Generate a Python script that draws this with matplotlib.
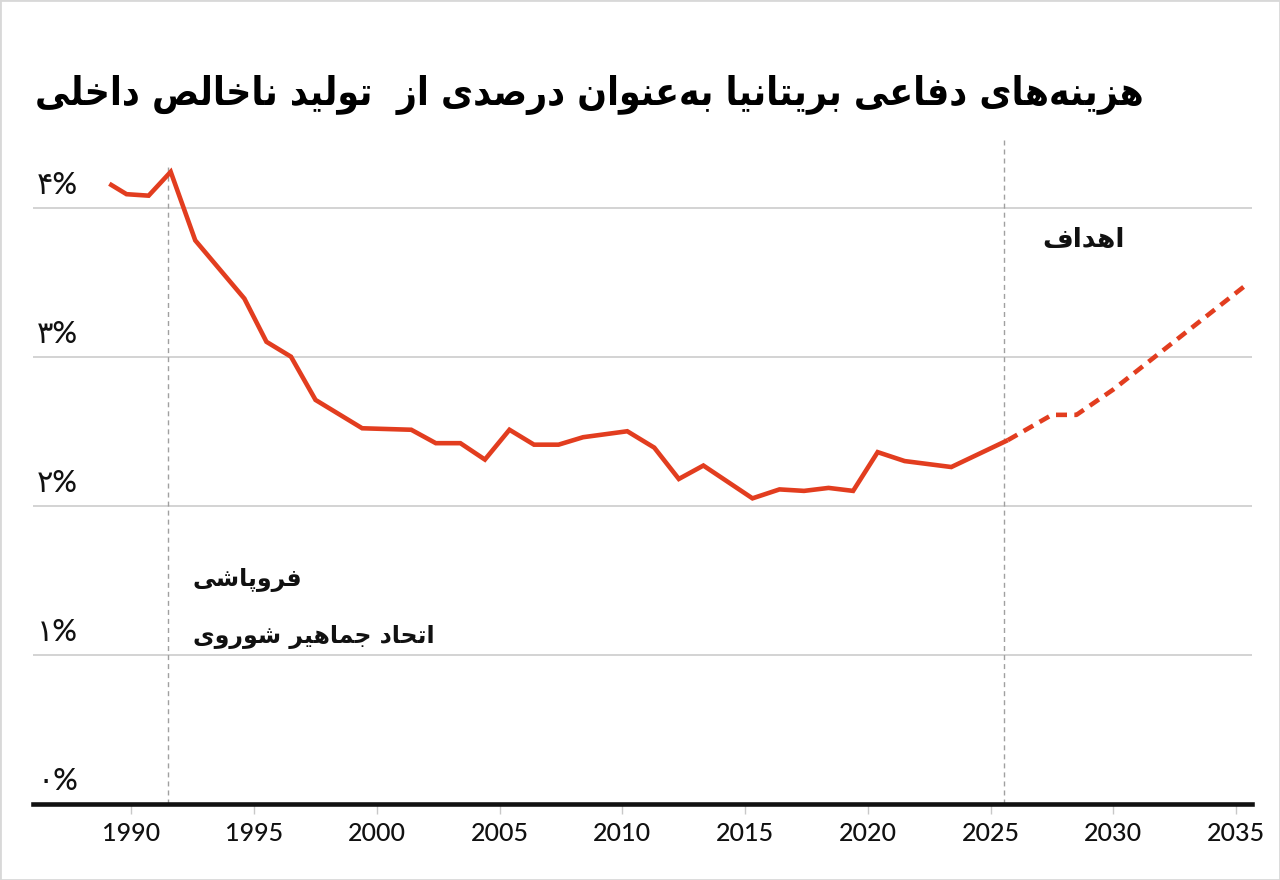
import matplotlib
matplotlib.use("Agg")
import matplotlib.pyplot as plt
from matplotlib.patches import Rectangle
from matplotlib.transforms import offset_copy

# matplotlib has no Arabic-script joining or RTL, so shape Persian by hand:
# map letters to presentation forms and reverse into visual order.
FORMS = {
    # right-joining: (isolated, final)
    "ا": ("\uFE8D", "\uFE8E"),
    "د": ("\uFEA9", "\uFEAA"),
    "ر": ("\uFEAD", "\uFEAE"),
    "ز": ("\uFEAF", "\uFEB0"),
    "و": ("\uFEED", "\uFEEE"),
    # dual-joining: (isolated, final, initial, medial)
    "ب": ("\uFE8F", "\uFE90", "\uFE91", "\uFE92"),
    "ت": ("\uFE95", "\uFE96", "\uFE97", "\uFE98"),
    "ج": ("\uFE9D", "\uFE9E", "\uFE9F", "\uFEA0"),
    "ح": ("\uFEA1", "\uFEA2", "\uFEA3", "\uFEA4"),
    "خ": ("\uFEA5", "\uFEA6", "\uFEA7", "\uFEA8"),
    "ش": ("\uFEB5", "\uFEB6", "\uFEB7", "\uFEB8"),
    "ص": ("\uFEB9", "\uFEBA", "\uFEBB", "\uFEBC"),
    "ع": ("\uFEC9", "\uFECA", "\uFECB", "\uFECC"),
    "ف": ("\uFED1", "\uFED2", "\uFED3", "\uFED4"),
    "ل": ("\uFEDD", "\uFEDE", "\uFEDF", "\uFEE0"),
    "م": ("\uFEE1", "\uFEE2", "\uFEE3", "\uFEE4"),
    "ن": ("\uFEE5", "\uFEE6", "\uFEE7", "\uFEE8"),
    "ه": ("\uFEE9", "\uFEEA", "\uFEEB", "\uFEEC"),
    "پ": ("\uFB56", "\uFB57", "\uFB58", "\uFB59"),
    "ی": ("\uFBFC", "\uFBFD", "\uFBFE", "\uFBFF"),
}


def fa(text):
    out = []
    for i, ch in enumerate(text):
        forms = FORMS.get(ch)
        if forms is None:
            if ch != "\u200c":
                out.append(ch)
            continue
        prev = text[i - 1] if i > 0 else ""
        nxt = text[i + 1] if i + 1 < len(text) else ""
        join_prev = prev in FORMS and len(FORMS[prev]) == 4
        join_next = len(forms) == 4 and nxt in FORMS
        if join_prev and join_next:
            out.append(forms[3])
        elif join_prev:
            out.append(forms[1])
        elif join_next:
            out.append(forms[2])
        else:
            out.append(forms[0])
    return "".join(reversed(out))


# ---- data ----
years = [1989.1, 1989.8, 1990.7, 1991.6, 1992.6, 1994.6, 1995.5, 1996.5,
         1997.5, 1999.4, 2001.4, 2002.4, 2003.4, 2004.4, 2005.4, 2006.4,
         2007.4, 2008.4, 2010.2, 2011.3, 2012.3, 2013.3, 2015.3, 2016.4,
         2017.4, 2018.4, 2019.4, 2020.4, 2021.5, 2023.4, 2025.7]
spend = [4.16, 4.09, 4.08, 4.24, 3.78, 3.39, 3.10, 3.00,
         2.71, 2.52, 2.51, 2.42, 2.42, 2.31, 2.51, 2.41,
         2.41, 2.46, 2.50, 2.39, 2.18, 2.27, 2.05, 2.11,
         2.10, 2.12, 2.10, 2.36, 2.30, 2.26, 2.44]

target_years = [2025.7, 2027.5, 2028.5, 2030.0, 2035.4]
target_spend = [2.44, 2.61, 2.61, 2.78, 3.48]

ussr_year = 1991.5
target_start = 2025.55

x_ticks = [1990, 1995, 2000, 2005, 2010, 2015, 2020, 2025, 2030, 2035]
y_ticks = [0, 1, 2, 3, 4]
y_labels = ["۰%", "۱%", "۲%", "۳%", "۴%"]

title = "هزینه\u200cهای دفاعی بریتانیا به\u200cعنوان درصدی از  تولید ناخالص داخلی"
note_ussr_1 = "فروپاشی"
note_ussr_2 = "اتحاد جماهیر شوروی"
note_target = "اهداف"

RED = "#e23d1f"
INK = "#111111"
FONTS = ["Lato", "DejaVu Sans"]
plt.rcParams["font.family"] = FONTS

fig = plt.figure(figsize=(12.8, 8.8), dpi=100)
ax = fig.add_axes([33 / 1280, 1 - 804 / 880, (1252 - 33) / 1280, (804 - 140) / 880])

ax.plot(years, spend, color=RED, lw=3.3, solid_joinstyle="miter",
        solid_capstyle="butt", zorder=3)
ax.plot(target_years, target_spend, color=RED, lw=3.3, dashes=(2.4, 1.6),
        zorder=3)

ax.axvline(ussr_year, ymax=0.962, color="#a0a0a0", lw=1.0, dashes=(3.6, 2.9), zorder=2)
ax.axvline(target_start, ymax=1.0, color="#a0a0a0", lw=1.0, dashes=(3.6, 2.9), zorder=2)

ax.set_xlim(1985.99, 2035.65)
ax.set_ylim(0, (804 - 140) / 149.1)

for v in y_ticks[1:]:
    ax.axhline(v, color="#c8c8c8", lw=1.1, zorder=1)

for s in ["top", "right", "left"]:
    ax.spines[s].set_visible(False)
ax.spines["bottom"].set_linewidth(3.3)
ax.spines["bottom"].set_color(INK)
ax.spines["bottom"].set_zorder(4)

ax.set_xticks(x_ticks)
ax.set_xticklabels([str(t) for t in x_ticks], fontweight="medium")
ax.tick_params(axis="x", length=7.2, width=1.0, color="#c8c8c8", pad=6,
               labelsize=18, labelcolor=INK)
ax.set_yticks([])

ytrans = offset_copy(ax.get_yaxis_transform(), fig=fig, x=3, y=10, units="points")
for v, lab in zip(y_ticks, y_labels):
    ax.text(0.0, v, lab, transform=ytrans, ha="left", va="baseline",
            fontsize=22, fontweight="medium", color=INK, family=FONTS)

ax.text(1992.5, 1.50, fa(note_ussr_1), ha="left", va="center", fontsize=17,
        fontweight="bold", color=INK, family=["DejaVu Sans"])
ax.text(1992.5, 1.12, fa(note_ussr_2), ha="left", va="center", fontsize=17,
        fontweight="bold", color=INK, family=["DejaVu Sans"])
ax.text(2027.1, 3.78, fa(note_target), ha="left", va="center", fontsize=19,
        fontweight="bold", color=INK, family=["DejaVu Sans"])

fig.text(35 / 1280, 1 - 95 / 880, fa(title), ha="left", va="center",
         fontsize=28, fontweight="bold", fontstretch="condensed",
         color="#000000", family=["DejaVu Sans"])

fig.add_artist(Rectangle((0, 0), 1, 1, transform=fig.transFigure, fill=False,
                         edgecolor="#d8d8d8", lw=2))

fig.savefig("out.png", dpi=100)
